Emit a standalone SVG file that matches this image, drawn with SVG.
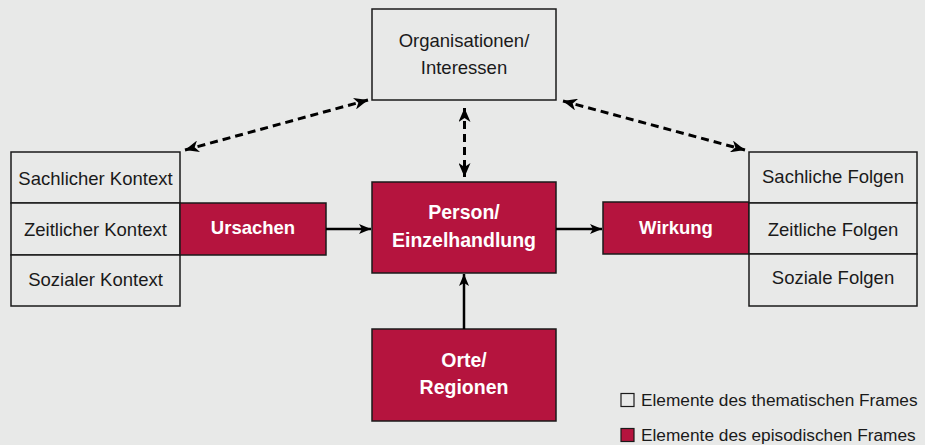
<svg xmlns="http://www.w3.org/2000/svg" width="925" height="445" viewBox="0 0 925 445">
<defs>
<style>
.bg{fill:#e8e9e8}
.box{fill:#e8e9e8;stroke:#1a1a1a;stroke-width:1.5}
.red{fill:#b5143e;stroke:#1a1a1a;stroke-width:1.5}
.t{font-family:"Liberation Sans",Arial,sans-serif;font-size:18.5px;fill:#1a1a1a;text-anchor:middle}
.tb{font-family:"Liberation Sans",Arial,sans-serif;font-size:18.5px;font-weight:bold;fill:#ffffff;text-anchor:middle}
.lg{font-family:"Liberation Sans",Arial,sans-serif;font-size:17.3px;fill:#1a1a1a}
.solid{stroke:#000;stroke-width:2.5;fill:none}
.dash{stroke:#000;stroke-width:3;fill:none;stroke-dasharray:8 5}
</style>
<marker id="ah" viewBox="0 0 12 10" refX="12" refY="5" markerWidth="12" markerHeight="10" markerUnits="userSpaceOnUse" orient="auto">
<path d="M0,0 L12,5 L0,10 L3,5 Z" fill="#000"/>
</marker>
<marker id="ahd" viewBox="0 0 14 12" refX="14" refY="6" markerWidth="14" markerHeight="12" markerUnits="userSpaceOnUse" orient="auto-start-reverse">
<path d="M0,0 L14,6 L0,12 L4,6 Z" fill="#000"/>
</marker>
</defs>
<rect class="bg" x="0" y="0" width="925" height="445"/>

<g id="organisationen">
<rect class="box" x="372" y="9" width="184" height="91"/>
<text class="t" x="464" y="47">Organisationen/</text>
<text class="t" x="464" y="74">Interessen</text>
</g>

<g id="kontext">
<rect class="box" x="11" y="152" width="169" height="51"/>
<rect class="box" x="11" y="203" width="169" height="52"/>
<rect class="box" x="11" y="255" width="169" height="51"/>
<text class="t" x="95.5" y="185">Sachlicher Kontext</text>
<text class="t" x="95.5" y="236">Zeitlicher Kontext</text>
<text class="t" x="95.5" y="286">Sozialer Kontext</text>
</g>

<g id="ursachen">
<rect class="red" x="180" y="203" width="146" height="52"/>
<text class="tb" x="253" y="234">Ursachen</text>
</g>

<g id="person">
<rect class="red" x="372" y="182" width="184" height="91"/>
<text class="tb" x="464" y="219" style="font-size:19.5px">Person/</text>
<text class="tb" x="464" y="247" style="font-size:19.5px">Einzelhandlung</text>
</g>

<g id="wirkung">
<rect class="red" x="603" y="202" width="146" height="52"/>
<text class="tb" x="676" y="234">Wirkung</text>
</g>

<g id="folgen">
<rect class="box" x="749" y="152" width="168" height="51"/>
<rect class="box" x="749" y="203" width="168" height="51"/>
<rect class="box" x="749" y="254" width="168" height="52"/>
<text class="t" x="833" y="183">Sachliche Folgen</text>
<text class="t" x="833" y="236">Zeitliche Folgen</text>
<text class="t" x="833" y="284">Soziale Folgen</text>
</g>

<g id="orte">
<rect class="red" x="372" y="329" width="184" height="92"/>
<text class="tb" x="464" y="367" style="font-size:19.5px">Orte/</text>
<text class="tb" x="464" y="394" style="font-size:19.5px">Regionen</text>
</g>

<g id="connectors">
<line class="solid" x1="326" y1="229" x2="371" y2="229" marker-end="url(#ah)"/>
<line class="solid" x1="556" y1="229" x2="602" y2="229" marker-end="url(#ah)"/>
<line class="solid" x1="464" y1="329" x2="464" y2="274" marker-end="url(#ah)"/>
<line class="dash" x1="464.5" y1="108" x2="464.5" y2="177" marker-start="url(#ahd)" marker-end="url(#ahd)"/>
<line class="dash" x1="185" y1="150" x2="368" y2="100" marker-start="url(#ahd)" marker-end="url(#ahd)"/>
<line class="dash" x1="563" y1="101" x2="745" y2="150" marker-start="url(#ahd)" marker-end="url(#ahd)"/>
</g>

<g id="legend">
<rect x="621" y="393.5" width="13" height="13" fill="#e8e9e8" stroke="#1a1a1a" stroke-width="1.2"/>
<text class="lg" x="641" y="406">Elemente des thematischen Frames</text>
<rect x="621" y="428.5" width="13" height="13" fill="#b5143e" stroke="#1a1a1a" stroke-width="1.2"/>
<text class="lg" x="641" y="441">Elemente des episodischen Frames</text>
</g>
</svg>
